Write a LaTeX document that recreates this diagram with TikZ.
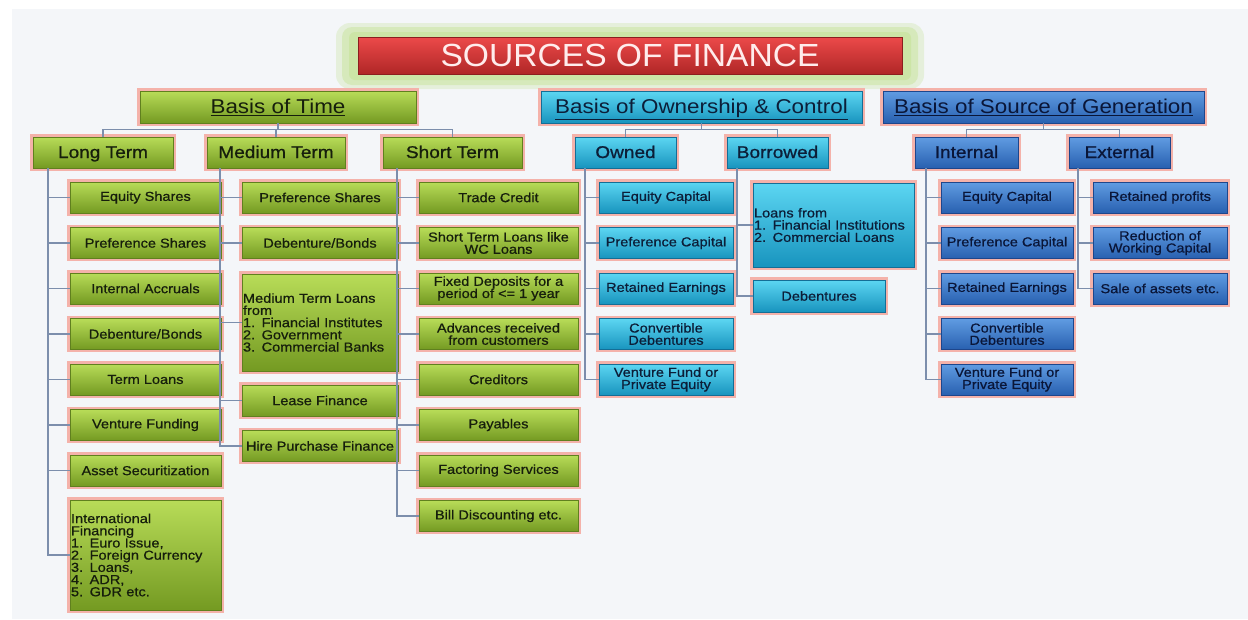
\documentclass[tikz,border=0pt]{standalone}
\usepackage{fontspec}
\setmainfont[FakeStretch=1.12,FakeBold=0.7]{Liberation Sans}
\newfontfamily\lvfont[FakeStretch=1.12,FakeBold=0.9]{Liberation Sans}
\newfontfamily\topfont[FakeStretch=1.12]{Liberation Sans}
\newfontfamily\titlefont[FakeStretch=1.05]{Liberation Sans}
\definecolor{bgc}{RGB}{244,246,249}
\definecolor{linec}{RGB}{124,142,172}
\definecolor{glowc}{RGB}{244,178,170}
\definecolor{glowg}{RGB}{196,226,150}
\definecolor{gtop}{RGB}{184,220,88}
\definecolor{gbot}{RGB}{116,154,34}
\definecolor{gedge}{RGB}{96,128,30}
\definecolor{gtxt}{RGB}{22,30,12}
\definecolor{ctop}{RGB}{92,214,242}
\definecolor{cbot}{RGB}{24,148,190}
\definecolor{cedge}{RGB}{20,110,150}
\definecolor{ctxt}{RGB}{12,30,56}
\definecolor{btop}{RGB}{96,156,226}
\definecolor{bbot}{RGB}{40,96,176}
\definecolor{bedge}{RGB}{30,70,140}
\definecolor{btxt}{RGB}{10,22,56}
\definecolor{rtop}{RGB}{236,74,74}
\definecolor{rbot}{RGB}{176,38,38}
\definecolor{redge}{RGB}{140,30,30}
\definecolor{rtxt}{RGB}{255,236,236}
\begin{document}
\begin{tikzpicture}[x=1pt,y=-1pt,
  conn/.style={draw=linec, line width=1.2pt},
  boxbase/.style={rectangle, inner sep=1pt, outer sep=0pt, line width=0.6pt,
    preaction={draw=glowc, line width=5.5pt},
    font=\fontsize{13}{12.2}\selectfont, align=center, minimum height=31pt},
  gbox/.style={boxbase, top color=gtop, bottom color=gbot, draw=gedge, text=gtxt},
  cbox/.style={boxbase, top color=ctop, bottom color=cbot, draw=cedge, text=ctxt},
  bbox/.style={boxbase, top color=btop, bottom color=bbot, draw=bedge, text=btxt},
  lvtwo/.style={font=\lvfont\fontsize{17}{19}\selectfont, text height=14pt, text depth=3pt},
  lvone/.style={font=\topfont\fontsize{20}{22}\selectfont, minimum height=32pt, text height=17pt, text depth=4pt},
]
\useasboundingbox (0,0) rectangle (1248,619);
\fill[white] (0,0) rectangle (1248,619);
\fill[bgc] (12,9) rectangle (1248,619);

% title glow
\fill[glowg, opacity=0.3, rounded corners=14] (336,23) rectangle (924,89);
\fill[glowg, opacity=0.45, rounded corners=10] (342,27) rectangle (918,85);
\fill[glowg, opacity=0.55, rounded corners=6] (349,32) rectangle (911,80);
\node[rectangle, top color=rtop, bottom color=rbot, draw=redge, line width=0.6pt,
  minimum width=544pt, minimum height=37pt, text=rtxt,
  font=\titlefont\fontsize{32}{34}\selectfont] (title) at (630,55.5) {SOURCES OF FINANCE};

% level 1
\node[gbox, lvone, minimum width=276pt] (time) at (278,107) {\underline{Basis of Time}};
\node[cbox, lvone, minimum width=321pt] (own) at (701.5,107) {\underline{Basis of Ownership \& Control}};
\node[bbox, lvone, minimum width=321pt] (src) at (1043.5,107) {\underline{Basis of Source of Generation}};

% level 2
\node[gbox, lvtwo, minimum width=140pt] (lt) at (103,152.5) {Long Term};
\node[gbox, lvtwo, minimum width=138pt] (mt) at (276,152.5) {Medium Term};
\node[gbox, lvtwo, minimum width=139pt] (st) at (452.5,152.5) {Short Term};
\node[cbox, lvtwo, minimum width=101pt] (ow) at (625.5,152.5) {Owned};
\node[cbox, lvtwo, minimum width=101pt] (bo) at (777.5,152.5) {Borrowed};
\node[bbox, lvtwo, minimum width=103pt] (intl) at (966.5,152.5) {Internal};
\node[bbox, lvtwo, minimum width=101pt] (extl) at (1119.5,152.5) {External};

% long term column
\node[gbox, minimum width=151pt] (c1) at (145.5,197.5) {Equity Shares};
\node[gbox, minimum width=151pt] (c2) at (145.5,243) {Preference Shares};
\node[gbox, minimum width=151pt] (c3) at (145.5,288.5) {Internal Accruals};
\node[gbox, minimum width=151pt] (c4) at (145.5,334) {Debenture/Bonds};
\node[gbox, minimum width=151pt] (c5) at (145.5,379.5) {Term Loans};
\node[gbox, minimum width=151pt] (c6) at (145.5,425) {Venture Funding};
\node[gbox, minimum width=151pt] (c7) at (145.5,470.5) {Asset Securitization};
\node[gbox, minimum width=151pt, minimum height=110pt, text width=149pt, align=left] (c8) at (145.5,555)
  {International\\Financing\\1. Euro Issue,\\2. Foreign Currency\\3. Loans,\\4. ADR,\\5. GDR etc.};

% medium term column
\node[gbox, minimum width=156pt] (m1) at (320,197.5) {Preference Shares};
\node[gbox, minimum width=156pt] (m2) at (320,243) {Debenture/Bonds};
\node[gbox, minimum width=156pt, minimum height=97pt, text width=154pt, align=left] (m3) at (320,322.5)
  {Medium Term Loans\\from\\1. Financial Institutes\\2. Government\\3. Commercial Banks};
\node[gbox, minimum width=156pt] (m4) at (320,400.5) {Lease Finance};
\node[gbox, minimum width=156pt] (m5) at (320,446) {Hire Purchase Finance};

% short term column
\node[gbox, minimum width=159pt] (s1) at (498.5,197.5) {Trade Credit};
\node[gbox, minimum width=159pt] (s2) at (498.5,243) {Short Term Loans like\\WC Loans};
\node[gbox, minimum width=159pt] (s3) at (498.5,288.5) {Fixed Deposits for a\\period of <= 1 year};
\node[gbox, minimum width=159pt] (s4) at (498.5,334) {Advances received\\from customers};
\node[gbox, minimum width=159pt] (s5) at (498.5,379.5) {Creditors};
\node[gbox, minimum width=159pt] (s6) at (498.5,425) {Payables};
\node[gbox, minimum width=159pt] (s7) at (498.5,470.5) {Factoring Services};
\node[gbox, minimum width=159pt] (s8) at (498.5,516) {Bill Discounting etc.};

% owned column
\node[cbox, minimum width=134pt] (o1) at (666,197.5) {Equity Capital};
\node[cbox, minimum width=134pt] (o2) at (666,243) {Preference Capital};
\node[cbox, minimum width=134pt] (o3) at (666,288.5) {Retained Earnings};
\node[cbox, minimum width=134pt] (o4) at (666,334) {Convertible\\Debentures};
\node[cbox, minimum width=134pt] (o5) at (666,379.5) {Venture Fund or\\Private Equity};

% borrowed column
\node[cbox, minimum width=161pt, minimum height=84pt, text width=159pt, align=left] (b1) at (833.5,225)
  {Loans from\\1. Financial Institutions\\2. Commercial Loans};
\node[cbox, minimum width=132pt, minimum height=32pt] (b2) at (819,296) {Debentures};

% internal column
\node[bbox, minimum width=132pt] (i1) at (1007,197.5) {Equity Capital};
\node[bbox, minimum width=132pt] (i2) at (1007,243) {Preference Capital};
\node[bbox, minimum width=132pt] (i3) at (1007,288.5) {Retained Earnings};
\node[bbox, minimum width=132pt] (i4) at (1007,334) {Convertible\\Debentures};
\node[bbox, minimum width=132pt] (i5) at (1007,379.5) {Venture Fund or\\Private Equity};

% external column
\node[bbox, minimum width=134pt] (e1) at (1160,197.5) {Retained profits};
\node[bbox, minimum width=134pt] (e2) at (1160,243) {Reduction of\\Working Capital};
\node[bbox, minimum width=134pt] (e3) at (1160,288.5) {Sale of assets etc.};

% connectors level 1 -> level 2
\foreach \c in {lt,mt,st} \draw[conn] (time.south) -- ++(0,6.5) -| (\c.north);
\foreach \c in {ow,bo} \draw[conn] (own.south) -- ++(0,6.5) -| (\c.north);
\foreach \c in {intl,extl} \draw[conn] (src.south) -- ++(0,6.5) -| (\c.north);

% connectors level 2 -> items
\foreach \c in {c1,c2,c3,c4,c5,c6,c7,c8} \draw[conn] ([xshift=15pt]lt.south west) |- (\c.west);
\foreach \c in {m1,m2,m3,m4,m5} \draw[conn] ([xshift=13pt]mt.south west) |- (\c.west);
\foreach \c in {s1,s2,s3,s4,s5,s6,s7,s8} \draw[conn] ([xshift=14pt]st.south west) |- (\c.west);
\foreach \c in {o1,o2,o3,o4,o5} \draw[conn] ([xshift=10pt]ow.south west) |- (\c.west);
\foreach \c in {b1,b2} \draw[conn] ([xshift=10pt]bo.south west) |- (\c.west);
\foreach \c in {i1,i2,i3,i4,i5} \draw[conn] ([xshift=11pt]intl.south west) |- (\c.west);
\foreach \c in {e1,e2,e3} \draw[conn] ([xshift=9pt]extl.south west) |- (\c.west);
\end{tikzpicture}
\end{document}
